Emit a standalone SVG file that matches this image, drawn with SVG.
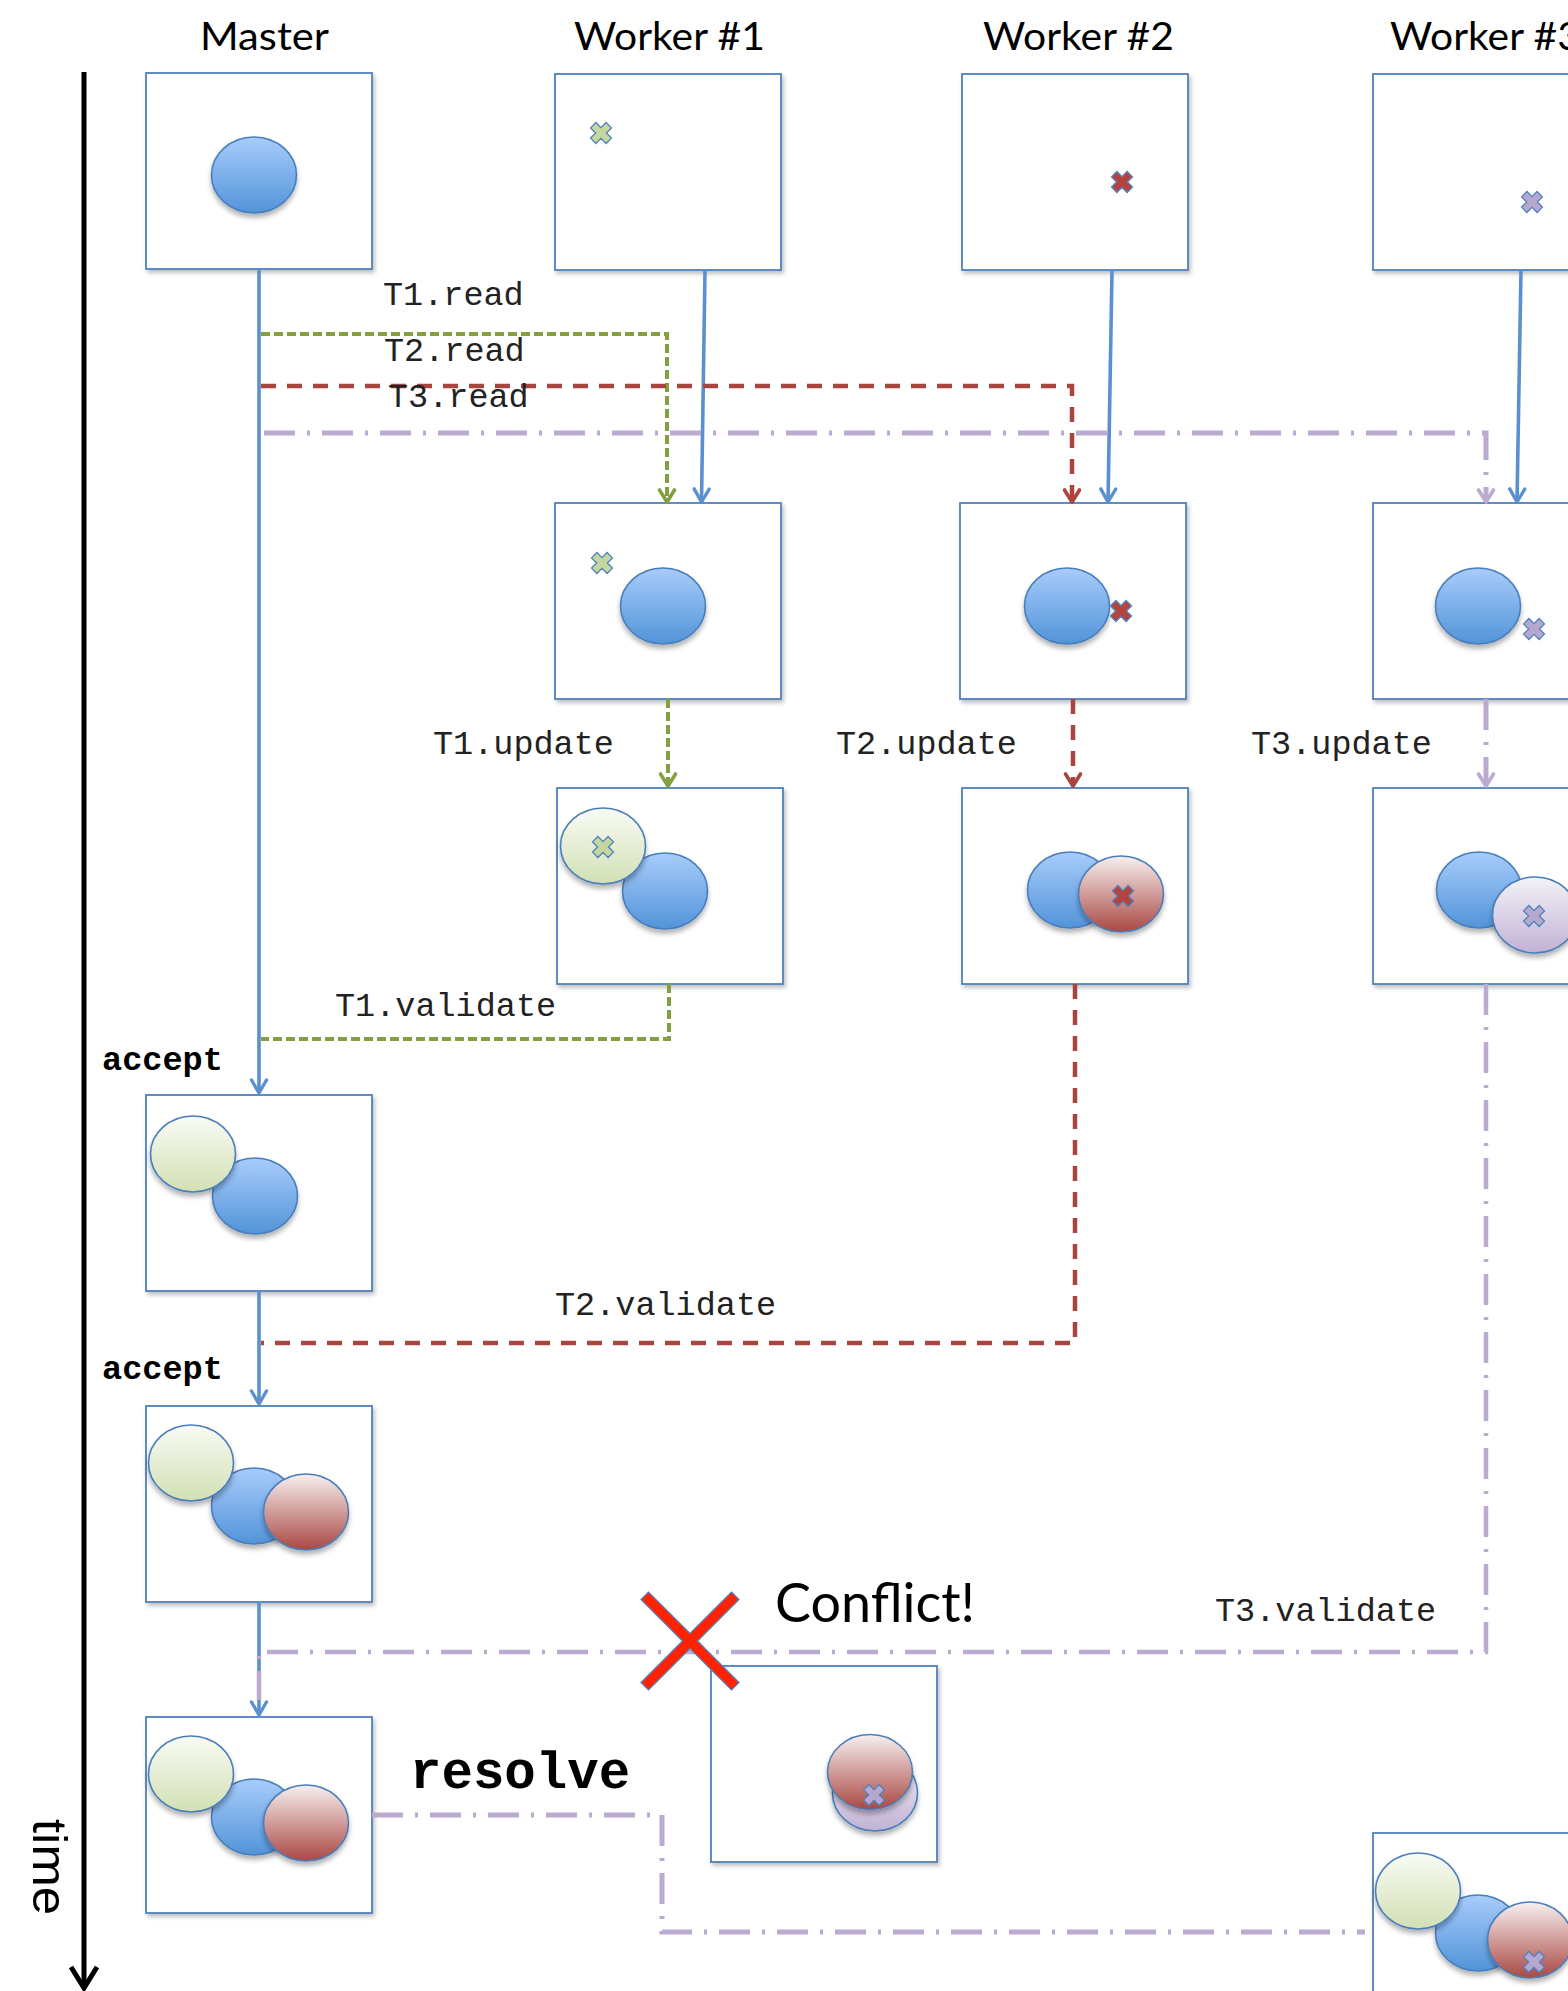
<svg xmlns="http://www.w3.org/2000/svg" width="1568" height="1991" viewBox="0 0 1568 1991">
<style>
.box{fill:#fff;stroke:#4F81BD;stroke-width:1.8;filter:url(#bshadow)}
.hdr{font-family:Lato,"Liberation Sans",sans-serif;font-size:39px;fill:#000}
.mono{font-family:"Liberation Mono","Courier New",monospace;font-size:33.5px;fill:#222}
.monob{font-family:"Liberation Mono","Courier New",monospace;font-weight:bold;fill:#000}
.blue{fill:url(#gBlue);stroke:#4A7EBB;stroke-width:1.6;filter:url(#eshadow)}
.green{fill:url(#gGreen);stroke:#4A7EBB;stroke-width:1.6;filter:url(#eshadow)}
.red{fill:url(#gRed);stroke:#4A7EBB;stroke-width:1.6;filter:url(#eshadow)}
.purple{fill:url(#gPurple);stroke:#4A7EBB;stroke-width:1.6;filter:url(#eshadow)}
.cb{fill:none;stroke:#5A90D0;stroke-width:3.6}
.cg{fill:none;stroke:#82A03F;stroke-width:4;stroke-dasharray:9 4}
.cr{fill:none;stroke:#A9443E;stroke-width:4.5;stroke-dasharray:15 11}
.cp{fill:none;stroke:#BBABD0;stroke-width:5;stroke-dasharray:31 12 3 12}
</style>
<defs>
<filter id="bshadow" x="-10%" y="-10%" width="125%" height="125%">
<feDropShadow dx="2" dy="3" stdDeviation="2" flood-color="#000" flood-opacity="0.25"/>
</filter>
<filter id="eshadow" x="-20%" y="-20%" width="150%" height="150%">
<feDropShadow dx="0" dy="4" stdDeviation="2.5" flood-color="#000" flood-opacity="0.3"/>
</filter>
<linearGradient id="gBlue" x1="0" y1="0" x2="0" y2="1"><stop offset="0" stop-color="#A8CCFB"/><stop offset="1" stop-color="#5294D9"/></linearGradient>
<linearGradient id="gGreen" x1="0" y1="0" x2="0" y2="1"><stop offset="0" stop-color="#F9FBF5"/><stop offset="1" stop-color="#D2E0B4"/></linearGradient>
<linearGradient id="gRed" x1="0" y1="0" x2="0" y2="1"><stop offset="0" stop-color="#F7F0F0"/><stop offset="1" stop-color="#AA4843"/></linearGradient>
<linearGradient id="gPurple" x1="0" y1="0" x2="0" y2="1"><stop offset="0" stop-color="#F4F2F7"/><stop offset="1" stop-color="#C1B2D5"/></linearGradient>
<polygon id="xm" points="-3.8,-11 3.8,-11 3.8,-3.8 11,-3.8 11,3.8 3.8,3.8 3.8,11 -3.8,11 -3.8,3.8 -11,3.8 -11,-3.8 -3.8,-3.8" transform="rotate(45)" stroke="#4F81BD" stroke-width="1.3"/>
<marker id="aB" markerUnits="userSpaceOnUse" markerWidth="1" markerHeight="1" refX="0" refY="0" orient="auto" overflow="visible"><path d="M-13,-7.5 L0,0 L-13,7.5" fill="none" stroke="#5A90D0" stroke-width="3.4" stroke-linecap="round" stroke-linejoin="round"/></marker>
<marker id="aG" markerUnits="userSpaceOnUse" markerWidth="1" markerHeight="1" refX="0" refY="0" orient="auto" overflow="visible"><path d="M-12,-7.5 L0,0 L-12,7.5" fill="none" stroke="#82A03F" stroke-width="3.6" stroke-linecap="round" stroke-linejoin="round"/></marker>
<marker id="aR" markerUnits="userSpaceOnUse" markerWidth="1" markerHeight="1" refX="0" refY="0" orient="auto" overflow="visible"><path d="M-12,-7.5 L0,0 L-12,7.5" fill="none" stroke="#A9443E" stroke-width="3.6" stroke-linecap="round" stroke-linejoin="round"/></marker>
<marker id="aP" markerUnits="userSpaceOnUse" markerWidth="1" markerHeight="1" refX="0" refY="0" orient="auto" overflow="visible"><path d="M-12,-7.5 L0,0 L-12,7.5" fill="none" stroke="#BBABD0" stroke-width="3.6" stroke-linecap="round" stroke-linejoin="round"/></marker>
</defs>
<rect width="1568" height="1991" fill="#fff"/>

<g id="headers">
<text class="hdr" x="200" y="50" textLength="129" lengthAdjust="spacingAndGlyphs">Master</text>
<text class="hdr" x="574" y="50" textLength="191" lengthAdjust="spacingAndGlyphs">Worker #1</text>
<text class="hdr" x="983" y="50" textLength="191" lengthAdjust="spacingAndGlyphs">Worker #2</text>
<text class="hdr" x="1390" y="50" textLength="191" lengthAdjust="spacingAndGlyphs">Worker #3</text>
</g>

<g id="timeline">
<line x1="84" y1="72" x2="84" y2="1987" stroke="#000" stroke-width="5"/>
<path d="M71,1967 L84,1988 L97,1967" fill="none" stroke="#000" stroke-width="5" stroke-linejoin="miter"/>
<text transform="translate(33,1819) rotate(90)" font-family="'Liberation Sans',Arial,sans-serif" font-size="48" textLength="96" lengthAdjust="spacingAndGlyphs">time</text>
</g>

<g id="master-1"><rect class="box" x="146" y="73" width="226" height="196"/><ellipse class="blue" cx="254" cy="175" rx="42.5" ry="38"/></g>
<g id="worker1-1"><rect class="box" x="555" y="74" width="226" height="196"/><use href="#xm" x="601" y="133" fill="#C4D79E"/></g>
<g id="worker2-1"><rect class="box" x="962" y="74" width="226" height="196"/><use href="#xm" x="1122" y="182" fill="#B5433D"/></g>
<g id="worker3-1"><rect class="box" x="1373" y="74" width="226" height="196"/><use href="#xm" x="1532" y="202" fill="#B6A7CE"/></g>

<g id="worker1-2"><rect class="box" x="555" y="503" width="226" height="196"/><use href="#xm" x="602" y="563" fill="#C4D79E"/><ellipse class="blue" cx="663" cy="606" rx="42.5" ry="38"/></g>
<g id="worker2-2"><rect class="box" x="960" y="503" width="226" height="196"/><ellipse class="blue" cx="1067" cy="606" rx="42.5" ry="38"/><use href="#xm" x="1121" y="611" fill="#B5433D"/></g>
<g id="worker3-2"><rect class="box" x="1373" y="503" width="226" height="196"/><ellipse class="blue" cx="1478" cy="606" rx="42.5" ry="38"/><use href="#xm" x="1534" y="629" fill="#B6A7CE"/></g>

<g id="worker1-3"><rect class="box" x="557" y="788" width="226" height="196"/><ellipse class="blue" cx="665" cy="891" rx="42.5" ry="38"/><ellipse class="green" cx="603" cy="846" rx="42.5" ry="38"/><use href="#xm" x="603" y="847" fill="#C4D79E"/></g>
<g id="worker2-3"><rect class="box" x="962" y="788" width="226" height="196"/><ellipse class="blue" cx="1070" cy="890" rx="42.5" ry="38"/><ellipse class="red" cx="1121" cy="894" rx="42.5" ry="38"/><use href="#xm" x="1123" y="896" fill="#B5433D"/></g>
<g id="worker3-3"><rect class="box" x="1373" y="788" width="226" height="196"/><ellipse class="blue" cx="1479" cy="890" rx="42.5" ry="38"/><ellipse class="purple" cx="1535" cy="915" rx="42.5" ry="38"/><use href="#xm" x="1534" y="916" fill="#B6A7CE"/></g>

<g id="master-2"><rect class="box" x="146" y="1095" width="226" height="196"/><ellipse class="blue" cx="255" cy="1196" rx="42.5" ry="38"/><ellipse class="green" cx="193" cy="1154" rx="42.5" ry="38"/></g>
<g id="master-3"><rect class="box" x="146" y="1406" width="226" height="196"/><ellipse class="blue" cx="254" cy="1506" rx="42.5" ry="38"/><ellipse class="green" cx="191" cy="1463" rx="42.5" ry="38"/><ellipse class="red" cx="306" cy="1512" rx="42.5" ry="38"/></g>
<g id="master-4"><rect class="box" x="146" y="1717" width="226" height="196"/><ellipse class="blue" cx="254" cy="1817" rx="42.5" ry="38"/><ellipse class="green" cx="191" cy="1774" rx="42.5" ry="38"/><ellipse class="red" cx="306" cy="1823" rx="42.5" ry="38"/></g>
<g id="conflict-box"><rect class="box" x="711" y="1666" width="226" height="196"/><ellipse class="purple" cx="875" cy="1793" rx="42.5" ry="38"/><ellipse class="red" cx="870" cy="1772" rx="42.5" ry="37.5"/><use href="#xm" x="874" y="1795" fill="#B6A7CE"/></g>
<g id="worker3-4"><rect class="box" x="1373" y="1833" width="226" height="196"/><ellipse class="blue" cx="1478" cy="1933" rx="42.5" ry="38"/><ellipse class="green" cx="1418" cy="1891" rx="42.5" ry="38"/><ellipse class="red" cx="1530" cy="1940" rx="42.5" ry="38"/><use href="#xm" x="1534" y="1962" fill="#B6A7CE"/></g>

<g id="connectors">
<path class="cb" d="M259,269 V1093" marker-end="url(#aB)"/>
<path class="cb" d="M705,270 L701.5,502" marker-end="url(#aB)"/>
<path class="cb" d="M1112,270 L1108,502" marker-end="url(#aB)"/>
<path class="cb" d="M1521,270 L1517,502" marker-end="url(#aB)"/>
<path class="cb" d="M259,1291 V1404" marker-end="url(#aB)"/>
<path class="cb" d="M259,1602 V1715" marker-end="url(#aB)"/>

<path class="cg" d="M261,334 H667 V502" marker-end="url(#aG)"/>
<path class="cg" d="M668,699 V786" marker-end="url(#aG)"/>
<path class="cg" d="M669,984 V1039 H261"/>

<path class="cr" d="M261,386 H1072 V502" marker-end="url(#aR)"/>
<path class="cr" d="M1073,699 V786" marker-end="url(#aR)"/>
<path class="cr" d="M1075,984 V1343 H261"/>

<path class="cp" d="M264,433 H1486 V502" marker-end="url(#aP)"/>
<path class="cp" d="M1486,699 V786" marker-end="url(#aP)"/>
<path class="cp" d="M1486,984 V1652 H259 V1700" style="stroke-width:4.5"/>
<path class="cp" d="M372,1815 H662 V1932 H1365"/>
</g>

<g id="conflict-mark">
<polygon points="-5.3,-64 5.3,-64 5.3,-5.3 64,-5.3 64,5.3 5.3,5.3 5.3,64 -5.3,64 -5.3,5.3 -64,5.3 -64,-5.3 -5.3,-5.3" transform="translate(690,1641) rotate(45)" fill="#FF2200" stroke="#4F81BD" stroke-width="1.2"/>
<text x="775" y="1622" font-family="Lato,'Liberation Sans',sans-serif" font-size="54" textLength="200" lengthAdjust="spacingAndGlyphs">Conflict!</text>
</g>

<g id="labels">
<text class="mono" x="383" y="305">T1.read</text>
<text class="mono" x="384" y="361">T2.read</text>
<text class="mono" x="388" y="407">T3.read</text>
<text class="mono" x="433" y="754">T1.update</text>
<text class="mono" x="836" y="754">T2.update</text>
<text class="mono" x="1251" y="754">T3.update</text>
<text class="mono" x="335" y="1016">T1.validate</text>
<text class="mono" x="555" y="1315">T2.validate</text>
<text class="mono" x="1215" y="1621">T3.validate</text>
<text class="monob" x="102" y="1070" font-size="33.6">accept</text>
<text class="monob" x="102" y="1379" font-size="33.6">accept</text>
<text class="monob" x="410" y="1788" font-size="52.4">resolve</text>
</g>
</svg>
